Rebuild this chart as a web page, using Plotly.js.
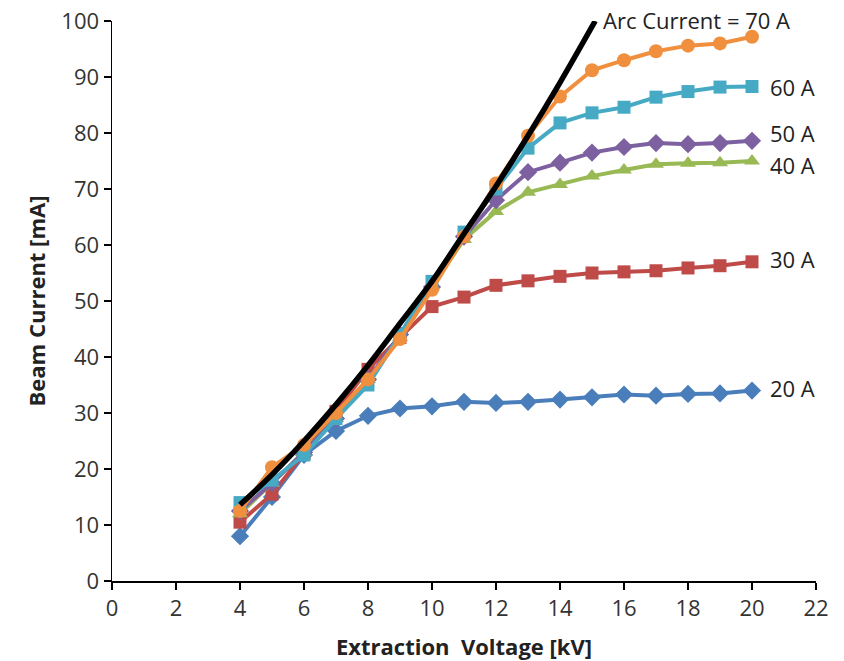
<!DOCTYPE html>
<html>
<head>
<meta charset="utf-8">
<script src="https://cdn.plot.ly/plotly-3.0.1.min.js"></script>
<style>html,body{margin:0;padding:0;background:#fff}#chart{width:844px;height:661px}</style>
</head>
<body>
<div id="chart"></div>
<script>
var voltage = [4,5,6,7,8,9,10,11,12,13,14,15,16,17,18,19,20];
var arc20 = [8, 15, 22.5, 26.8, 29.5, 30.8, 31.2, 32, 31.8, 32, 32.4, 32.8, 33.3, 33.1, 33.4, 33.5, 34];
var arc30 = [10.5, 15.5, 22.8, 30.3, 37.8, 43.5, 49, 50.7, 52.8, 53.6, 54.4, 55, 55.2, 55.4, 55.9, 56.3, 57];
var arc40 = [12, 17.5, 23, 29, 36, 43.5, 52.5, 61, 66, 69.4, 70.8, 72.3, 73.4, 74.4, 74.6, 74.7, 75];
var arc50 = [12.5, 17.5, 23, 29, 36, 44, 52.5, 61.5, 68, 73, 74.7, 76.5, 77.5, 78.2, 78, 78.2, 78.6];
var arc60 = [14, 18, 22.5, 29, 35, 44, 53.5, 62.3, 70, 77.3, 81.8, 83.6, 84.6, 86.4, 87.4, 88.2, 88.3];
var arc70 = [12.5, 20.3, 24.3, 30, 36, 43.2, 52, 61.5, 71, 79.5, 86.5, 91.2, 93, 94.6, 95.6, 96, 97.2];
var fitV = [4,5,6,7,8,9,10,11,12,13,14,15.1];
var fitI = [13.6, 19, 25, 31.5, 38.5, 46, 53.5, 62, 70.5, 79.5, 89, 100];
var seriesLabels = ["20 A","30 A","40 A","50 A","60 A","Arc Current = 70 A"];
var xTicks = [0,2,4,6,8,10,12,14,16,18,20,22];
var yTicks = [0,10,20,30,40,50,60,70,80,90,100];

var series = [
  {y: arc20, color: '#4a7ebb', symbol: 'diamond', size: 14},
  {y: arc30, color: '#be4b48', symbol: 'square', size: 13},
  {y: arc40, color: '#98b954', symbol: 'triangle-up', size: 14},
  {y: arc50, color: '#7d60a0', symbol: 'diamond', size: 14},
  {y: arc60, color: '#46aac5', symbol: 'square', size: 13},
  {y: arc70, color: '#f0903f', symbol: 'circle', size: 14}
];
var traces = series.map(function(s){
  return {x: voltage, y: s.y, type: 'scatter', mode: 'lines+markers',
    line: {color: s.color, width: 4},
    marker: {color: s.color, symbol: s.symbol, size: s.size},
    showlegend: false, cliponaxis: false};
});
traces.push({x: fitV, y: fitI, type: 'scatter', mode: 'lines',
  line: {color: '#000', width: 5.5, shape: 'spline'}, showlegend: false, cliponaxis: false});

var labelY = [34.5, 57.5, 74.3, 80, 88.2, 100.2];
var annotations = seriesLabels.map(function(t, i){
  var last = i === 5;
  return {x: last ? 21.25 : 20.5, y: last ? 1.002 : labelY[i], xref: 'x', yref: last ? 'paper' : 'y', text: t,
    showarrow: false, xanchor: last ? 'right' : 'left', yanchor: 'middle',
    font: {family: 'Open Sans, sans-serif', size: 22, color: '#222'}};
});

var layout = {
  width: 844, height: 661,
  margin: {l: 112, r: 28, t: 21, b: 80},
  paper_bgcolor: '#fff', plot_bgcolor: '#fff',
  font: {family: 'Open Sans, sans-serif', color: '#333'},
  xaxis: {range: [0, 22], tickvals: xTicks, ticktext: xTicks.map(String),
    showgrid: false, zeroline: false, showline: true, linecolor: '#000', linewidth: 1.5,
    ticks: 'outside', ticklen: 7, tickcolor: '#000', tickwidth: 1.5,
    tickfont: {size: 22, color: '#333'},
    title: {text: '<b>Extraction  Voltage [kV]</b>', font: {size: 22, color: '#222'}, standoff: 18}},
  yaxis: {range: [0, 100], tickvals: yTicks, ticktext: yTicks.map(String),
    showgrid: false, zeroline: false, showline: true, linecolor: '#000', linewidth: 1.5,
    ticks: 'outside', ticklen: 7, tickcolor: '#000', tickwidth: 1.5,
    tickfont: {size: 22, color: '#333'},
    title: {text: '<b>Beam Current [mA]</b>', font: {size: 22, color: '#222'}, standoff: 9}},
  annotations: annotations
};
Plotly.newPlot('chart', traces, layout, {displayModeBar: false, staticPlot: true});
</script>
</body>
</html>
